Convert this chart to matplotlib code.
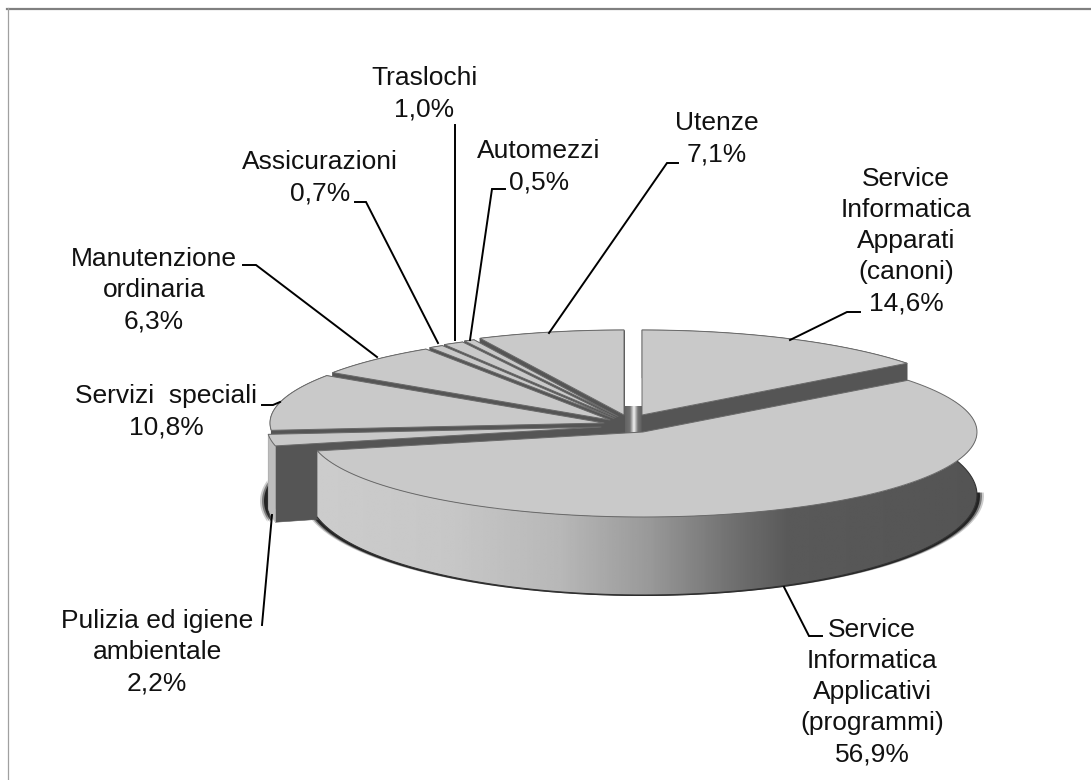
"""
3D exploded pie, grey, drawn by hand because matplotlib has no such pie
"""
import numpy as np
import matplotlib
matplotlib.use('Agg')
import matplotlib.pyplot as plt
from matplotlib.patches import Polygon

plt.rcParams['font.family'] = ['Liberation Sans', 'DejaVu Sans']

# clockwise from 12 o'clock
labels = ['Service\nInformatica\nApparati\n(canoni)',
          'Service\nInformatica\nApplicativi\n(programmi)',
          'Pulizia ed igiene\nambientale',
          'Servizi  speciali',
          'Manutenzione\nordinaria',
          'Assicurazioni',
          'Traslochi',
          'Automezzi',
          'Utenze']
values = [14.6, 56.9, 2.2, 10.8, 6.3, 0.7, 1.0, 0.5, 7.1]
value_text = ['14,6%', '56,9%', '2,2%', '10,8%', '6,3%', '0,7%', '1,0%', '0,5%', '7,1%']

# pie shape, in pixels
A = 334
B = 85
B_BOTTOM = 100
DEPTH = 63
TOP_GREY = '#c9c9c9'
WALL_GREY = '#555555'

# apex of every slice once exploded, and its wall depth
centers = [(642, 415), (643, 432), (601, 427), (604, 423), (610, 420),
           (614, 418.5), (616, 417.5), (618, 416.5), (624, 415)]
depths = [DEPTH, DEPTH, 73, DEPTH, DEPTH, DEPTH, DEPTH, DEPTH, DEPTH]

# drawn from the back to the front
draw_order = [8, 7, 6, 5, 4, 3, 0, 2, 1]

# label centre and leader line of every slice
label_pos = [(906, 241), (872, 692), (157, 652), (166, 412), (154, 290),
             (320, 178), (424, 94), (539, 167), (717, 139)]
leaders = [[(860, 312), (847, 312), (790, 340)],
           [(822, 636), (809, 636), (784, 587)],
           [(262, 625), (272, 515)],
           [(262, 405), (273, 405), (280, 402)],
           [(243, 265), (256, 265), (377, 357)],
           [(355, 202), (366, 202), (438, 343)],
           [(455, 125), (455, 340)],
           [(505, 189), (492, 189), (470, 340)],
           [(678, 163), (667, 163), (549, 333)]]

fig = plt.figure(figsize=(10.91, 7.8), dpi=100)
ax = fig.add_axes([0, 0, 1, 1])


def top_xy(c, th, r=1.0):
    return c[0] + A * r * np.sin(th), c[1] - B * r * np.cos(th)


def bottom_xy(c, th, depth, r=1.0, grow=0):
    return c[0] + (A + grow) * r * np.sin(th), c[1] + depth - B_BOTTOM * r * np.cos(th)


def poly(xs, ys, color, **kw):
    p = Polygon(np.column_stack([xs, ys]), closed=True, fc=color, ec=kw.pop('ec', color),
                lw=kw.pop('lw', 0.4), **kw)
    ax.add_patch(p)
    return p


def gradient(x0, x1, y0, y1, stops_x, stops_g, clip=None):
    # horizontal grey gradient, image is clipped to the wall shape
    xs = np.linspace(x0, x1, 300)
    img = np.interp(xs, stops_x, stops_g).reshape(1, -1)
    im = ax.imshow(img, cmap='gray', vmin=0, vmax=1, extent=(x0, x1, y1, y0),
                   aspect='auto', interpolation='bilinear', zorder=1)
    if clip is not None:
        im.set_clip_path(clip)


def shadow(c, depth, th0, th1):
    th = np.radians(np.linspace(th0, th1, 80))
    for grow, alpha in [(7, 0.2), (5, 0.4), (3, 0.7)]:
        xs, ys = bottom_xy(c, th, depth + 1, grow=grow)
        poly(xs, ys, 'black', alpha=alpha, lw=0, zorder=1)


def draw_slice(i, th0, th1):
    c = centers[i]
    depth = depths[i]
    th = np.linspace(th0, th1, 120)
    tx, ty = top_xy(c, th)
    bx, by = bottom_xy(c, th, depth)
    ax0, ay0 = bottom_xy(c, 0.0, depth, r=0.0)

    # two radial walls
    for edge in (0, -1):
        poly([c[0], tx[edge], bx[edge], ax0], [c[1], ty[edge], by[edge], ay0], WALL_GREY, zorder=1)

    # outer wall
    if i == 1:
        outer = poly(np.r_[tx, bx[::-1]], np.r_[ty, by[::-1]], 'none', lw=0, zorder=1)
        gradient(300, 990, 400, 610,
                 [318, 450, 560, 650, 733, 790, 977],
                 [0.80, 0.78, 0.72, 0.60, 0.44, 0.35, 0.33], clip=outer)
        ax.plot(bx, by, color='#333333', lw=0.8, zorder=1)
    elif i == 2:
        poly(np.r_[tx, bx[::-1]], np.r_[ty, by[::-1]], '#bdbdbd', zorder=1)
    else:
        poly(np.r_[tx, bx[::-1]], np.r_[ty, by[::-1]], WALL_GREY, zorder=1)

    # top face
    poly(np.r_[c[0], tx], np.r_[c[1], ty], TOP_GREY, ec='#6a6a6a', lw=0.7, zorder=1, joinstyle='round')


# the slices' angles come from the values
fractions = np.array(values) / sum(values)
ends = np.cumsum(fractions) * 2 * np.pi
starts = ends - fractions * 2 * np.pi

# the inner column seen through the gap at the top
gradient(622, 643, 406, 434, [622, 630, 634, 638, 643], [0.35, 0.45, 0.95, 0.45, 0.35])

shadow(centers[2], depths[2], 258, 282)
shadow(centers[1], depths[1], 88, 258)

for i in draw_order:
    draw_slice(i, starts[i], ends[i])

for i in range(len(values)):
    pts = np.array(leaders[i])
    ax.plot(pts[:, 0], pts[:, 1], color='black', lw=1.4, zorder=3, solid_joinstyle='miter')
    ax.text(label_pos[i][0], label_pos[i][1], labels[i] + '\n' + value_text[i],
            ha='center', va='center', ma='center', fontsize=19.0, linespacing=1.37,
            color='#111111', zorder=4)

# frame of the chart
ax.plot([7, 1091], [8.5, 8.5], color='#808080', lw=1.6, zorder=5)
ax.plot([7.5, 7.5], [8, 780], color='#a0a0a0', lw=0.9, zorder=5)

ax.set_xlim(0, 1091)
ax.set_ylim(780, 0)
ax.axis('off')

fig.savefig('out.png', dpi=100)
